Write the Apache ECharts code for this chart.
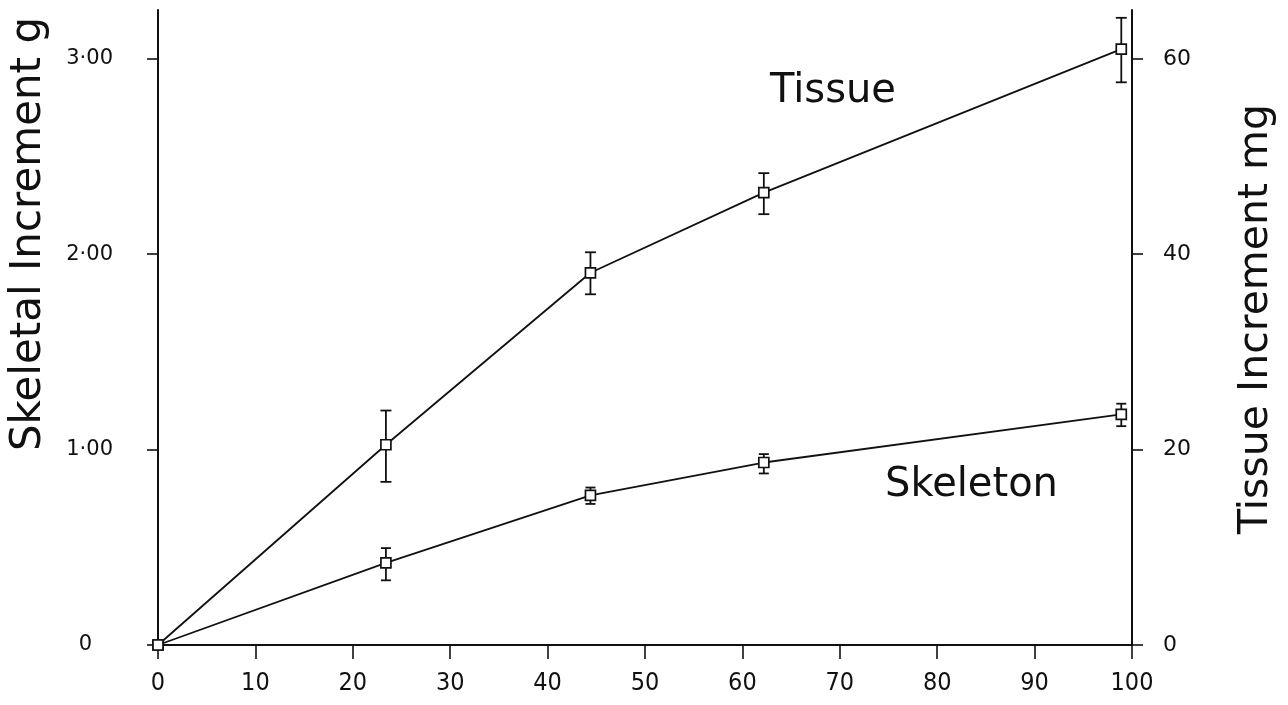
<!DOCTYPE html>
<html>
<head>
<meta charset="utf-8">
<script src="https://cdn.jsdelivr.net/npm/echarts@6/dist/echarts.min.js"></script>
<style>
  html, body { margin: 0; padding: 0; background: #fff; }
  #chart { width: 1288px; height: 705px; }
</style>
</head>
<body>
<div id="chart"></div>
<script>
// Days of growth (x) and mean increments with error ranges
const days = [0, 23.4, 44.4, 62.2, 98.9];

// Tissue increment, mg (right axis)
const tissueMean = [0, 20.5, 38.1, 46.3, 61.0];
const tissueLow  = [null, 16.7, 35.9, 44.1, 57.6];
const tissueHigh = [null, 24.0, 40.2, 48.3, 64.2];

// Skeletal increment, g (left axis)
const skeletonMean = [0, 0.42, 0.766, 0.934, 1.18];
const skeletonLow  = [null, 0.331, 0.722, 0.878, 1.12];
const skeletonHigh = [null, 0.496, 0.806, 0.977, 1.235];

// Axis tick values
const xTicks = [0, 10, 20, 30, 40, 50, 60, 70, 80, 90, 100];
const leftTicks = [0, 1, 2, 3];
const rightTicks = [0, 20, 40, 60];

const INK = '#111';
const SANS = '"DejaVu Sans", "Liberation Sans", sans-serif';
const NARROW = '"DejaVu Sans Condensed", "Liberation Sans Narrow", "Liberation Sans", sans-serif';

function pairs(xs, ys) {
  return xs.map((x, i) => [x, ys[i]]);
}
function errRows(xs, lo, hi) {
  const rows = [];
  xs.forEach((x, i) => { if (lo[i] != null) rows.push([x, lo[i], hi[i]]); });
  return rows;
}

// I-shaped error bar: vertical stem with short caps at both ends
function errorBar(capHalf) {
  return function (params, api) {
    const x = api.value(0);
    const lo = api.coord([x, api.value(1)]);
    const hi = api.coord([x, api.value(2)]);
    const st = { stroke: INK, lineWidth: 1.8 };
    return {
      type: 'group',
      children: [
        { type: 'line', shape: { x1: lo[0], y1: lo[1], x2: hi[0], y2: hi[1] }, style: st },
        { type: 'line', shape: { x1: lo[0] - capHalf, y1: lo[1], x2: lo[0] + capHalf, y2: lo[1] }, style: st },
        { type: 'line', shape: { x1: hi[0] - capHalf, y1: hi[1], x2: hi[0] + capHalf, y2: hi[1] }, style: st }
      ]
    };
  };
}

const chart = echarts.init(document.getElementById('chart'), null, { renderer: 'canvas' });

chart.setOption({
  animation: false,
  backgroundColor: '#fff',
  grid: { left: 158, right: 156, top: 10, bottom: 60, containLabel: false, outerBoundsMode: 'none' },
  xAxis: {
    type: 'value', min: 0, max: 100, interval: 10,
    axisLine: { show: true, onZero: false, lineStyle: { color: INK, width: 2 } },
    axisTick: { show: true, inside: false, length: 14, lineStyle: { color: INK, width: 1.6 }, customValues: xTicks },
    axisLabel: { color: INK, fontFamily: NARROW, fontSize: 25, margin: 26, customValues: xTicks },
    splitLine: { show: false }
  },
  yAxis: [
    {
      type: 'value', position: 'left', min: 0, max: 3.25,
      name: 'Skeletal Increment g', nameLocation: 'middle', nameGap: 108, nameRotate: 90,
      nameTextStyle: { color: INK, fontFamily: SANS, fontSize: 42, padding: [0, 0, 0, 187] },
      axisLine: { show: true, onZero: false, lineStyle: { color: INK, width: 2 } },
      axisTick: { show: true, inside: false, length: 11, lineStyle: { color: INK, width: 1.6 }, customValues: leftTicks },
      axisLabel: {
        color: INK, fontFamily: SANS, fontSize: 21, margin: 45, customValues: leftTicks,
        formatter: v => v === 0 ? '{z|0}' : v.toFixed(2).replace('.', '\u00b7'),
        rich: { z: { fontFamily: SANS, fontSize: 21, color: INK, padding: [0, 21, 0, 0] } }
      },
      splitLine: { show: false }
    },
    {
      type: 'value', position: 'right', min: 0, max: 65,
      name: 'Tissue Increment mg', nameLocation: 'middle', nameGap: 104, nameRotate: 90,
      nameTextStyle: { color: INK, fontFamily: SANS, fontSize: 41, padding: [0, 0, 0, 17] },
      axisLine: { show: true, onZero: false, lineStyle: { color: INK, width: 2 } },
      axisTick: { show: true, inside: false, length: 11, lineStyle: { color: INK, width: 1.6 }, customValues: rightTicks },
      axisLabel: { color: INK, fontFamily: SANS, fontSize: 22, margin: 31, customValues: rightTicks },
      splitLine: { show: false }
    }
  ],
  graphic: [
    { type: 'text', left: 770, top: 72, style: { text: 'Tissue', font: '40px "DejaVu Sans", sans-serif', fill: INK } },
    { type: 'text', left: 885, top: 466, style: { text: 'Skeleton', font: '40px "DejaVu Sans", sans-serif', fill: INK } }
  ],
  series: [
    {
      name: 'Tissue error', type: 'custom', yAxisIndex: 1, z: 2,
      renderItem: errorBar(5.5), data: errRows(days, tissueLow, tissueHigh),
      encode: { x: 0, y: [1, 2] }, silent: true
    },
    {
      name: 'Skeleton error', type: 'custom', yAxisIndex: 0, z: 2,
      renderItem: errorBar(5), data: errRows(days, skeletonLow, skeletonHigh),
      encode: { x: 0, y: [1, 2] }, silent: true
    },
    {
      name: 'Tissue', type: 'line', yAxisIndex: 1, z: 3,
      data: pairs(days, tissueMean),
      lineStyle: { color: INK, width: 1.8 },
      symbol: 'rect', symbolSize: 10, showAllSymbol: true,
      itemStyle: { color: '#fff', borderColor: INK, borderWidth: 1.7 }
    },
    {
      name: 'Skeleton', type: 'line', yAxisIndex: 0, z: 3,
      data: pairs(days, skeletonMean),
      lineStyle: { color: INK, width: 1.8 },
      symbol: 'rect', symbolSize: 10, showAllSymbol: true,
      itemStyle: { color: '#fff', borderColor: INK, borderWidth: 1.7 }
    }
  ]
});
</script>
</body>
</html>
